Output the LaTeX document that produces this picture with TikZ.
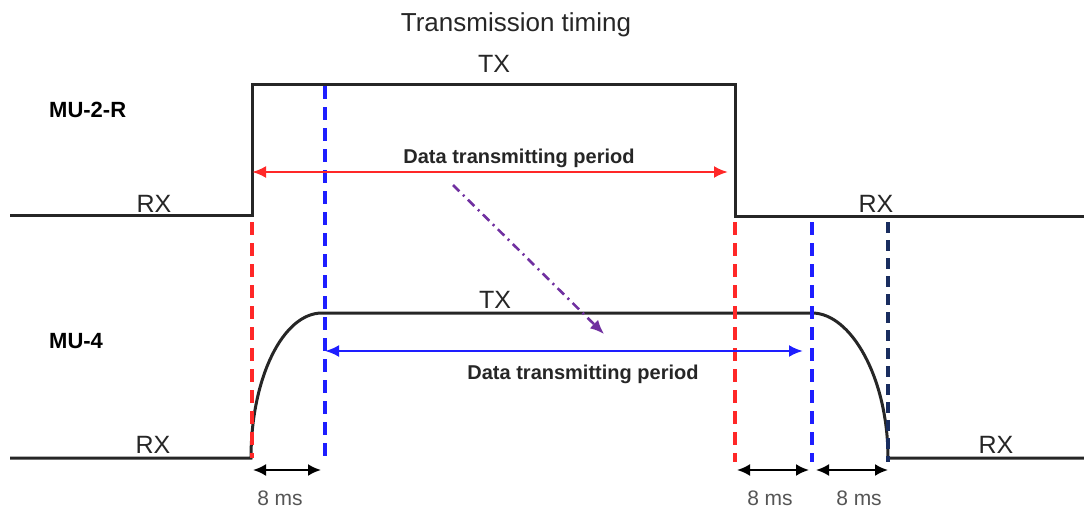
\documentclass[tikz,border=0pt]{standalone}
\usepackage{fontspec}
\setmainfont{Liberation Sans}
\usetikzlibrary{arrows.meta}

\definecolor{edgered}{RGB}{255,40,40}
\definecolor{edgeblue}{RGB}{30,30,255}
\definecolor{edgenavy}{RGB}{25,45,95}
\definecolor{hintpurple}{RGB}{112,48,160}
\definecolor{msgray}{RGB}{85,85,85}

\tikzset{
  wave/.style={line width=3pt, draw=black!85},
  edgeline/.style={line width=3.4pt, dash pattern=on 13pt off 8pt},
  period/.style={line width=2.6pt, {Latex[length=14pt,width=12pt]}-{Latex[length=14pt,width=12pt]}},
  gaparrow/.style={line width=2.2pt, black, {Latex[length=13pt,width=12pt]}-{Latex[length=13pt,width=12pt]}},
  statelabel/.style={font=\fontsize{25}{28}\selectfont, text=black!85, anchor=base, inner sep=0pt},
  unitlabel/.style={font=\bfseries\fontsize{22}{26}\selectfont, anchor=base west, inner sep=0pt},
  periodlabel/.style={font=\bfseries\fontsize{20}{23}\selectfont, text=black!85, anchor=base, inner sep=0pt},
  mslabel/.style={font=\fontsize{21}{24}\selectfont, text=msgray, anchor=base, inner sep=0pt}
}

\begin{document}
\begin{tikzpicture}[x=1pt,y=-1pt]
  \useasboundingbox (0,0) rectangle (1084,511);

  % Titre
  \node[font=\fontsize{26}{30}\selectfont, text=black!85, anchor=base, inner sep=0pt] (title) at (516,32) {Transmission timing};

  % Unite MU-2-R
  \node[unitlabel] (mutwo) at (49,117) {MU-2-R};
  \draw[wave] (10,215) -- (252,215) -- (252,84) -- (735,84) -- (735,216) -- (1084,216);
  \node[statelabel] (rxa) at (154,212) {RX};
  \node[statelabel] (txa) at (494,73) {TX};
  \node[statelabel] (rxb) at (876,212) {RX};

  % Unite MU-4
  \node[unitlabel] (mufour) at (49,348) {MU-4};
  \draw[wave] (10,458) -- (251,458) .. controls (251,378) and (283,313) .. (322,313) -- (812,313)
    .. controls (851,313) and (888,378) .. (888,458) -- (1084,458);
  \node[statelabel] (rxc) at (153,453) {RX};
  \node[statelabel] (txb) at (495,308) {TX};
  \node[statelabel] (rxd) at (996,453) {RX};

  % Lignes de repere
  \draw[edgeline, edgered] (252,222) -- (252,458);
  \draw[edgeline, edgeblue] (325,86) -- (325,456);
  \draw[edgeline, edgered] (735,222) -- (735,462);
  \draw[edgeline, edgeblue] (812,222) -- (812,462);
  \draw[edgeline, edgenavy, dash pattern=on 11pt off 7pt] (888,222) -- (888,462);

  % Periodes de transmission
  \coordinate (redl) at (252,172);
  \coordinate (redr) at (728,172);
  \draw[period, edgered] (redl) -- (redr);
  \node[periodlabel] (perioda) at (519,163) {Data transmitting period};

  \coordinate (bluel) at (325,351);
  \coordinate (bluer) at (803,351);
  \draw[period, edgeblue] (bluel) -- (bluer);
  \node[periodlabel] (periodb) at (583,379) {Data transmitting period};

  % Decalage
  \coordinate (hints) at (453,185);
  \coordinate (hinte) at (604,334);
  \draw[line width=2.6pt, hintpurple, dash pattern=on 9pt off 5pt on 2pt off 5pt,
    -{Latex[length=14pt,width=12pt]}] (hints) -- (hinte);

  % Ecarts de 8 ms
  \coordinate (ga) at (253,470);
  \coordinate (gb) at (321,470);
  \coordinate (gc) at (737,470);
  \coordinate (gd) at (809,470);
  \coordinate (ge) at (816,470);
  \coordinate (gf) at (888,470);
  \draw[gaparrow] (ga) -- (gb);
  \draw[gaparrow] (gc) -- (gd);
  \draw[gaparrow] (ge) -- (gf);
  \node[mslabel] (msa) at (280,505) {8 ms};
  \node[mslabel] (msb) at (770,505) {8 ms};
  \node[mslabel] (msc) at (859,505) {8 ms};
\end{tikzpicture}
\end{document}
